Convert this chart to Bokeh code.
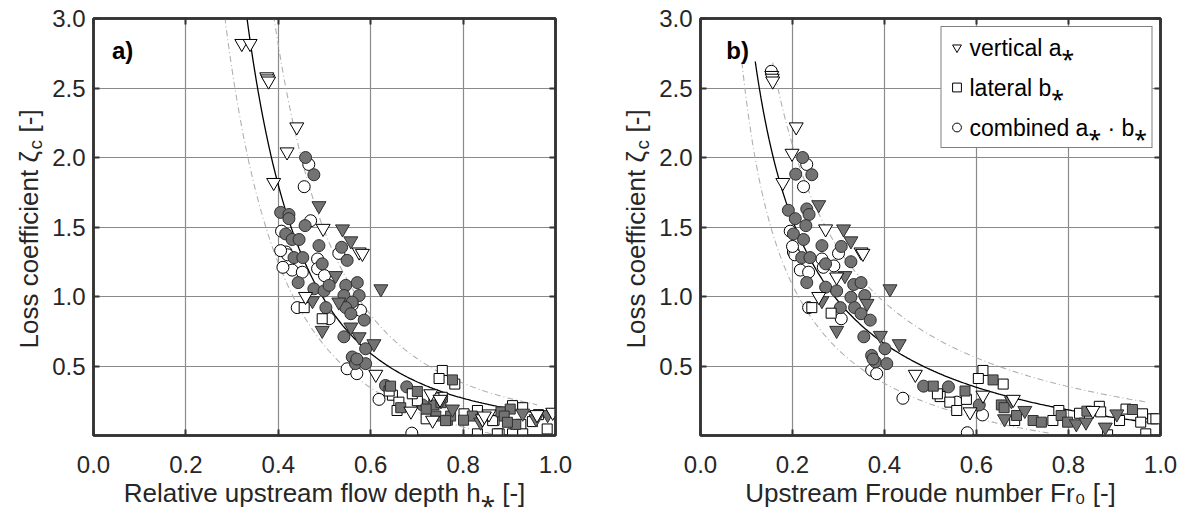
import numpy as np
from bokeh.core.properties import value
from bokeh.embed import file_html
from bokeh.layouts import row
from bokeh.models import (FixedTicker, Label, Legend, LegendItem, LinearAxis,
                          PrintfTickFormatter, Range1d)
from bokeh.plotting import figure
from bokeh.resources import INLINE

# ---------------------------------------------------------------- axes
X_TICKS = [0.0, 0.2, 0.4, 0.6, 0.8, 1.0]
Y_TICKS = [0.5, 1.0, 1.5, 2.0, 2.5, 3.0]

# ------------------------------------------- panel a) : relative depth h*
A_VERT_OPEN_X = [0.321, 0.339, 0.375, 0.377, 0.379, 0.419, 0.440, 0.390, 0.497, 0.575,
                 0.582, 0.459, 0.611, 0.687, 0.730, 0.734, 0.842, 0.856, 0.846, 0.960,
                 0.994, 0.750]
A_VERT_OPEN_Y = [2.82, 2.82, 2.58, 2.565, 2.55, 2.04, 2.22, 1.82, 1.49, 1.32,
                 1.31, 1.00, 0.44, 0.175, 0.30, 0.11, 0.12, 0.155, 0.14, 0.15,
                 0.167, 0.26]
A_VERT_FILL_X = [0.488, 0.539, 0.557, 0.524, 0.622, 0.474, 0.531, 0.495, 0.557, 0.575,
                 0.607, 0.752, 0.777, 0.838, 0.929, 0.958, 0.983]
A_VERT_FILL_Y = [1.653, 1.486, 1.40, 1.15, 1.055, 0.97, 0.96, 0.756, 0.78, 0.71,
                 0.66, 0.25, 0.19, 0.096, 0.16, 0.12, 0.15]
A_LAT_OPEN_X = [0.456, 0.495, 0.755, 0.748, 0.782, 0.647, 0.661, 0.657, 0.701, 0.755,
                0.737, 0.802, 0.831, 0.867, 0.878, 0.831, 0.864, 0.874, 0.907, 0.929,
                0.925, 0.907, 0.929, 0.963, 0.982, 0.720, 0.950, 0.640, 0.690]
A_LAT_OPEN_Y = [0.92, 0.84, 0.468, 0.41, 0.37, 0.29, 0.24, 0.18, 0.25, 0.275,
                0.27, 0.156, 0.012, 0.11, 0.012, 0.18, 0.107, 0.012, 0.215, 0.20,
                0.08, 0.012, 0.012, 0.15, 0.047, 0.12, 0.10, 0.32, 0.30]
A_LAT_FILL_X = [0.777, 0.643, 0.701, 0.737, 0.752, 0.741, 0.766, 0.773, 0.820, 0.801,
                0.882, 0.902, 0.914, 0.889, 0.896, 0.720, 0.665, 0.762]
A_LAT_FILL_Y = [0.40, 0.355, 0.317, 0.22, 0.236, 0.14, 0.11, 0.14, 0.14, 0.11,
                0.17, 0.19, 0.08, 0.14, 0.095, 0.19, 0.20, 0.107]
A_COMB_OPEN_X = [0.466, 0.456, 0.470, 0.407, 0.417, 0.420, 0.430, 0.452, 0.485, 0.485,
                 0.531, 0.441, 0.510, 0.578, 0.549, 0.570, 0.618, 0.689, 0.405, 0.410,
                 0.500, 0.560]
A_COMB_OPEN_Y = [1.95, 1.79, 1.545, 1.47, 1.32, 1.30, 1.19, 1.175, 1.27, 1.20,
                 1.31, 0.92, 0.84, 0.90, 0.48, 0.445, 0.26, 0.017, 1.33, 1.21,
                 1.15, 0.94]
A_COMB_FILL_X = [0.459, 0.477, 0.405, 0.423, 0.423, 0.458, 0.416, 0.430, 0.445, 0.488,
                 0.537, 0.434, 0.453, 0.495, 0.549, 0.443, 0.477, 0.499, 0.510, 0.546,
                 0.571, 0.542, 0.575, 0.560, 0.503, 0.546, 0.557, 0.586, 0.542, 0.560,
                 0.567, 0.589, 0.589, 0.632, 0.678, 0.712, 0.570]
A_COMB_FILL_Y = [2.00, 1.876, 1.605, 1.59, 1.56, 1.51, 1.45, 1.41, 1.41, 1.366,
                 1.354, 1.28, 1.28, 1.235, 1.26, 1.10, 1.055, 1.04, 1.08, 1.08,
                 1.10, 1.007, 1.007, 0.96, 0.92, 0.92, 0.876, 0.83, 0.71, 0.565,
                 0.517, 0.517, 0.624, 0.36, 0.35, 0.22, 0.55]

# ------------------------------------------ panel b) : Froude number Fr0
B_VERT_OPEN_X = [0.155, 0.156, 0.157, 0.208, 0.199, 0.179, 0.272, 0.349, 0.353, 0.296,
                 0.257, 0.467, 0.586, 0.614, 0.853, 0.680]
B_VERT_OPEN_Y = [2.59, 2.57, 2.55, 2.22, 2.03, 1.82, 1.486, 1.32, 1.31, 1.14,
                 1.00, 0.44, 0.17, 0.29, 0.18, 0.26]
B_VERT_FILL_X = [0.257, 0.311, 0.327, 0.314, 0.412, 0.264, 0.362, 0.296, 0.391, 0.432,
                 0.676, 0.661, 0.705, 0.817, 0.838, 0.880, 0.905]
B_VERT_FILL_Y = [1.66, 1.486, 1.40, 1.15, 1.055, 0.97, 0.95, 0.756, 0.72, 0.66,
                 0.25, 0.12, 0.18, 0.084, 0.096, 0.06, 0.155]
B_LAT_OPEN_X = [0.242, 0.284, 0.521, 0.542, 0.557, 0.578, 0.614, 0.604, 0.658, 0.683,
                0.766, 0.779, 0.824, 0.867, 0.885, 0.911, 0.925, 0.961, 0.957, 0.968,
                0.983, 0.990, 0.515, 0.870]
B_LAT_OPEN_Y = [0.92, 0.88, 0.28, 0.24, 0.18, 0.26, 0.468, 0.41, 0.37, 0.108,
                0.108, 0.18, 0.16, 0.21, 0.005, 0.108, 0.19, 0.156, 0.096, 0.012,
                0.12, 0.12, 0.30, 0.17]
B_LAT_FILL_X = [0.506, 0.575, 0.636, 0.654, 0.687, 0.723, 0.741, 0.784, 0.798, 0.840,
                0.939, 0.660]
B_LAT_FILL_Y = [0.355, 0.32, 0.40, 0.22, 0.144, 0.108, 0.096, 0.144, 0.096, 0.175,
                0.187, 0.20]
B_COMB_OPEN_X = [0.154, 0.231, 0.224, 0.195, 0.202, 0.205, 0.217, 0.235, 0.264, 0.267,
                 0.300, 0.235, 0.306, 0.372, 0.383, 0.440, 0.557, 0.580, 0.613, 0.200,
                 0.290]
B_COMB_OPEN_Y = [2.62, 1.95, 1.79, 1.47, 1.32, 1.30, 1.19, 1.175, 1.27, 1.21,
                 1.31, 0.92, 0.84, 0.47, 0.445, 0.268, 0.24, 0.02, 0.148, 1.36,
                 1.22]
B_COMB_FILL_X = [0.222, 0.207, 0.242, 0.191, 0.231, 0.236, 0.206, 0.229, 0.202, 0.224,
                 0.264, 0.306, 0.220, 0.238, 0.272, 0.327, 0.231, 0.272, 0.296, 0.333,
                 0.349, 0.327, 0.357, 0.304, 0.335, 0.349, 0.369, 0.355, 0.372, 0.380,
                 0.405, 0.401, 0.485, 0.539, 0.606, 0.375]
B_COMB_FILL_Y = [2.00, 1.88, 1.876, 1.62, 1.63, 1.59, 1.56, 1.51, 1.45, 1.41,
                 1.366, 1.36, 1.28, 1.28, 1.235, 1.25, 1.10, 1.067, 1.04, 1.086,
                 1.10, 0.995, 1.007, 0.92, 0.92, 0.876, 0.83, 0.71, 0.576, 0.53,
                 0.517, 0.624, 0.355, 0.35, 0.22, 0.55]

# fitted model  zeta = c * x**(-k) + d  on [x_start, x_end]
A_FIT = (0.145, 2.75, 0.0, 0.25, 0.955)
A_UPPER = (0.197, 2.90, 0.0, 0.30, 0.960)
A_LOWER = (0.180, 2.30, -0.24, 0.22, 0.870)
B_FIT = (0.450, 0.90, -0.366, 0.119, 0.970)
B_UPPER = (0.5725, 0.90, -0.348, 0.157, 0.970)
B_LOWER = (0.3584, 0.90, -0.443, 0.090, 0.760)

FONT = "Liberation Sans"
LABEL_FONT = "'Liberation Sans', 'Noto Sans'"
TEXT = "#262626"
AXIS = "#333333"
GRID = "#8a8a8a"
GREY = "#737373"
EDGE = "#2e2e2e"
HEIGHT = 512
FRAME_H = 417   # plot-frame height shared by every child of the row


def model_curve(params):
    c, k, d, x0, x1 = params
    xs = np.linspace(x0, x1, 200)
    return xs, c * xs ** (-k) + d


def ylabel_strip(width, x_mid):
    """Narrow canvas holding the rotated y-axis title with its subscript.

    Its frame is aligned with the neighbouring plot frame, so the y range is
    expressed in pixels above the frame bottom."""
    s = figure(width=width, height=HEIGHT, x_range=Range1d(0, width),
               y_range=Range1d(0, FRAME_H), x_axis_type=None, y_axis_type=None,
               output_backend="svg", toolbar_location=None, min_border=0,
               outline_line_color=None, background_fill_color="white",
               border_fill_color="white")
    common = dict(angle=np.pi / 2, text_align="left", text_baseline="middle",
                  text_font=value(FONT), text_color=TEXT)
    s.text(x=[x_mid], y=[87], text=["Loss coefficient \u03b6"],
           text_font_size=value("26px"), **common)
    s.text(x=[x_mid + 7], y=[286], text=["c"], text_font_size=value("19px"), **common)
    s.text(x=[x_mid], y=[303], text=["[-]"], text_font_size=value("26px"), **common)
    return s


def build_panel(tag, tag_x, xlabel, series, curves, width, left, right, with_legend):
    p = figure(width=width, height=HEIGHT, x_range=Range1d(0, 1), y_range=Range1d(0, 3),
               output_backend="svg", toolbar_location=None,
               min_border_left=left, min_border_right=right,
               min_border_top=18, min_border_bottom=77,
               background_fill_color="white", border_fill_color="white")
    p.outline_line_color = AXIS
    p.outline_line_width = 2.5

    p.xaxis.ticker = FixedTicker(ticks=X_TICKS)
    p.yaxis.ticker = FixedTicker(ticks=Y_TICKS)
    p.xaxis.formatter = PrintfTickFormatter(format="%.1f")
    p.yaxis.formatter = PrintfTickFormatter(format="%.1f")
    for ax in (p.xaxis[0], p.yaxis[0]):
        ax.axis_line_color = AXIS
        ax.axis_line_width = 2.5
        ax.major_tick_in = 6
        ax.major_tick_out = 0
        ax.major_tick_line_color = AXIS
        ax.major_tick_line_width = 2
        ax.minor_tick_line_color = None
        ax.major_label_text_font = FONT
        ax.major_label_text_font_size = "24px"
        ax.major_label_text_color = TEXT
    p.xaxis.major_label_standoff = 20
    p.yaxis.major_label_standoff = 8
    p.xaxis.axis_label = xlabel
    p.xaxis.axis_label_text_font = LABEL_FONT
    p.xaxis.axis_label_text_font_size = "26px"
    p.xaxis.axis_label_text_font_style = "normal"
    p.xaxis.axis_label_text_color = TEXT
    p.xaxis.axis_label_standoff = 2

    # mirrored tick marks on the top and right edges (labels hidden)
    for loc, tk in (("above", X_TICKS), ("right", Y_TICKS)):
        ax = LinearAxis(ticker=FixedTicker(ticks=tk), axis_line_color=AXIS,
                        axis_line_width=2.5, major_tick_in=6, major_tick_out=0,
                        major_tick_line_color=AXIS, major_tick_line_width=2,
                        minor_tick_line_color=None, major_label_text_color=None,
                        major_label_text_font_size="8px", major_label_standoff=0)
        p.add_layout(ax, loc)

    p.xgrid.ticker = FixedTicker(ticks=X_TICKS)
    p.ygrid.ticker = FixedTicker(ticks=Y_TICKS)
    p.grid.grid_line_color = GRID
    p.grid.grid_line_width = 1.2

    # model curves
    (fx, fy), (ux, uy), (lx, ly) = [model_curve(c) for c in curves]
    p.line(ux, uy, line_color="#b0b0b0", line_width=1.1, line_dash="6 3 1 3")
    p.line(lx, ly, line_color="#b0b0b0", line_width=1.1, line_dash="6 3 1 3")
    p.line(fx, fy, line_color="black", line_width=1.3)

    (vo, vf, lo, lf, co, cf) = series
    r_co = p.scatter(co[0], co[1], marker="circle", size=12, fill_color="white",
                     line_color="black", line_width=1)
    p.scatter(cf[0], cf[1], marker="circle", size=12, fill_color=GREY,
              line_color=EDGE, line_width=1)
    r_lo = p.scatter(lo[0], lo[1], marker="square", size=10, fill_color="white",
                     line_color="black", line_width=1)
    p.scatter(lf[0], lf[1], marker="square", size=10, fill_color=GREY,
              line_color=EDGE, line_width=1)
    p.scatter(vf[0], vf[1], marker="inverted_triangle", size=14, fill_color=GREY,
              line_color=EDGE, line_width=1)
    r_vo = p.scatter(vo[0], vo[1], marker="inverted_triangle", size=14,
                     fill_color="white", line_color="black", line_width=1)

    p.add_layout(Label(x=tag_x, y=2.77, text=tag, text_font=FONT,
                       text_font_size="24px", text_font_style="bold",
                       text_color="black", text_baseline="alphabetic"))

    if with_legend:
        legend = Legend(items=[
            LegendItem(label="vertical a\u204e", renderers=[r_vo]),
            LegendItem(label="lateral b\u204e", renderers=[r_lo]),
            LegendItem(label="combined a\u204e \u00b7 b\u204e", renderers=[r_co]),
        ], location="top_right")
        legend.label_text_font = LABEL_FONT
        legend.label_text_font_size = "23px"
        legend.label_text_color = "black"
        legend.glyph_width = 22
        legend.glyph_height = 28
        legend.label_standoff = 2
        legend.padding = 4
        legend.spacing = 8
        legend.margin = 8
        legend.border_line_color = "black"
        legend.border_line_width = 1
        legend.background_fill_color = "white"
        legend.background_fill_alpha = 1.0
        p.add_layout(legend)
    return p


pa = build_panel("a)", 0.04, "Relative upstream flow depth h\u204e [-]",
                 ((A_VERT_OPEN_X, A_VERT_OPEN_Y), (A_VERT_FILL_X, A_VERT_FILL_Y),
                  (A_LAT_OPEN_X, A_LAT_OPEN_Y), (A_LAT_FILL_X, A_LAT_FILL_Y),
                  (A_COMB_OPEN_X, A_COMB_OPEN_Y), (A_COMB_FILL_X, A_COMB_FILL_Y)),
                 (A_FIT, A_UPPER, A_LOWER), 555, 48, 45, False)
pb = build_panel("b)", 0.056, "Upstream Froude number Fr\u2080 [-]",
                 ((B_VERT_OPEN_X, B_VERT_OPEN_Y), (B_VERT_FILL_X, B_VERT_FILL_Y),
                  (B_LAT_OPEN_X, B_LAT_OPEN_Y), (B_LAT_FILL_X, B_LAT_FILL_Y),
                  (B_COMB_OPEN_X, B_COMB_OPEN_Y), (B_COMB_FILL_X, B_COMB_FILL_Y)),
                 (B_FIT, B_UPPER, B_LOWER), 542, 45, 37, True)

layout = row(ylabel_strip(45, 28), pa, ylabel_strip(55, 35), pb)
open("out.html", "w").write(file_html(layout, INLINE))
